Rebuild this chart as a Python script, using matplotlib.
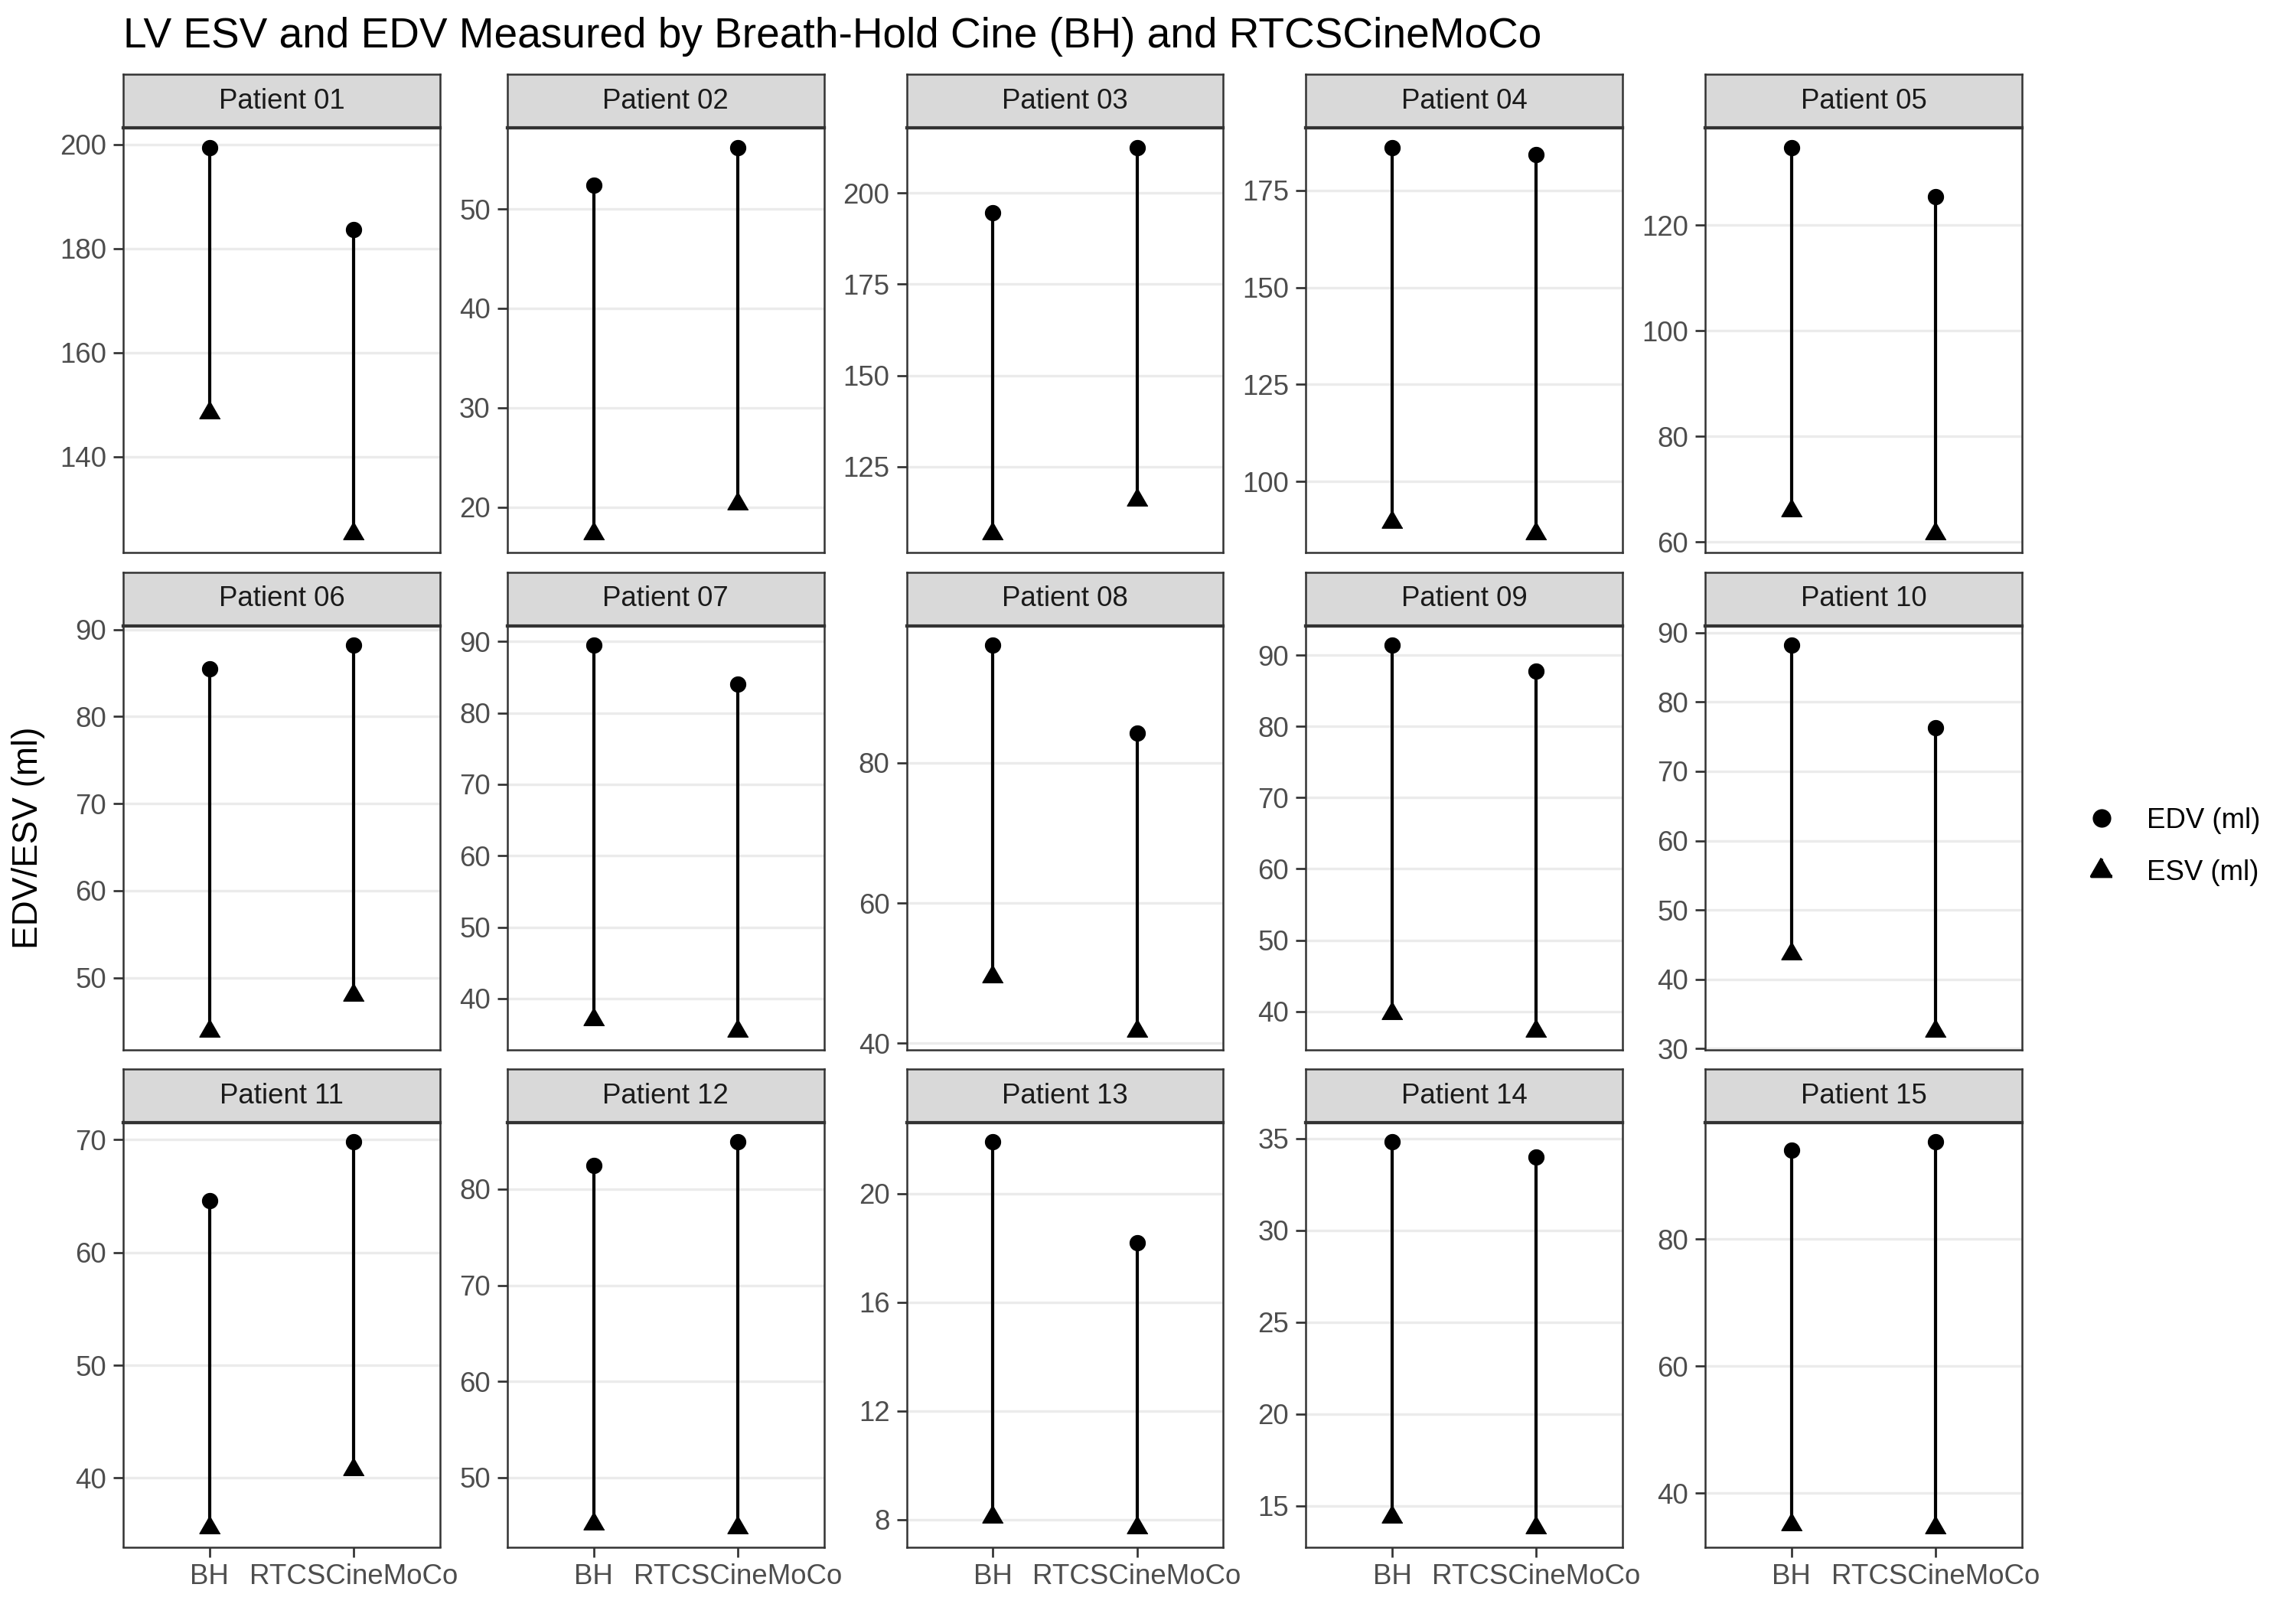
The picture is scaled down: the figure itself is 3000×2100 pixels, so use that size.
import matplotlib
matplotlib.use("Agg")
import matplotlib.pyplot as plt
from matplotlib.lines import Line2D

plt.rcParams['font.family'] = ['Liberation Sans', 'DejaVu Sans']

# values (ml)
patients = ["Patient 01", "Patient 02", "Patient 03", "Patient 04", "Patient 05",
            "Patient 06", "Patient 07", "Patient 08", "Patient 09", "Patient 10",
            "Patient 11", "Patient 12", "Patient 13", "Patient 14", "Patient 15"]
methods = ["BH", "RTCSCineMoCo"]
edv_bh = [199.4, 52.4, 194.6, 186.1, 134.7, 85.5, 89.5, 96.8, 91.4, 88.2, 64.6, 82.5, 21.9, 34.8, 94.0]
edv_rt = [183.6, 56.2, 212.5, 184.3, 125.3, 88.2, 84.0, 84.2, 87.8, 76.3, 69.8, 84.9, 18.2, 34.0, 95.3]
esv_bh = [148.4, 17.4, 106.8, 89.6, 66.0, 43.9, 37.1, 49.5, 39.8, 43.7, 35.6, 45.2, 8.1, 14.4, 35.1]
esv_rt = [125.3, 20.4, 116.0, 86.7, 61.7, 48.0, 35.5, 41.8, 37.3, 32.6, 40.8, 44.8, 7.7, 13.8, 34.6]
yticks = [[140, 160, 180, 200], [20, 30, 40, 50], [125, 150, 175, 200], [100, 125, 150, 175],
          [60, 80, 100, 120], [50, 60, 70, 80, 90], [40, 50, 60, 70, 80, 90], [40, 60, 80],
          [40, 50, 60, 70, 80, 90], [30, 40, 50, 60, 70, 80, 90], [40, 50, 60, 70],
          [50, 60, 70, 80], [8, 12, 16, 20], [15, 20, 25, 30, 35], [40, 60, 80]]

W, H = 3000, 2100
col_left = [161, 662.75, 1184.5, 1706.25, 2228]
panel_w = 414
row_top = [167.4, 817.8, 1467.2]
panel_h = 554.3
strip_h = 70

# triangle centred on its centroid, like R's pch 17
tri = [(0, 1), (-0.866, -0.5), (0.866, -0.5)]

fig = plt.figure(figsize=(10, 7), dpi=300)

for i, name in enumerate(patients):
    r, c = divmod(i, 5)
    ax = fig.add_axes([col_left[c] / W, 1 - (row_top[r] + panel_h) / H, panel_w / W, panel_h / H])
    x = [1, 2]
    edv = [edv_bh[i], edv_rt[i]]
    esv = [esv_bh[i], esv_rt[i]]
    ax.vlines(x, esv, edv, color='black', linewidth=1.0, zorder=3)
    ax.plot(x, edv, 'o', color='black', markersize=4.8, markeredgewidth=0.3, zorder=4)
    ax.plot(x, esv, marker=tri, linestyle='none', color='black', markersize=7.5,
            markeredgewidth=0.3, zorder=4)

    lo, hi = min(esv + edv), max(esv + edv)
    pad = 0.05 * (hi - lo)
    ax.set_ylim(lo - pad, hi + pad)
    ax.set_xlim(0.4, 2.6)
    ax.set_yticks(yticks[i])
    ax.yaxis.grid(True, color='#EBEBEB', linewidth=0.8)
    ax.set_axisbelow(True)
    for s in ax.spines.values():
        s.set_color('#333333')
        s.set_linewidth(0.6)
        s.set_zorder(5)
    ax.spines['top'].set_linewidth(1.0)
    ax.tick_params(axis='y', length=3.1, width=0.65, color='#333333',
                   labelcolor='#4D4D4D', labelsize=8.8, pad=2.2)
    ax.set_xticks(x)
    if r == 2:
        ax.set_xticklabels(methods)
        ax.tick_params(axis='x', length=3.1, width=0.65, color='#333333',
                       labelcolor='#4D4D4D', labelsize=8.8, pad=2.0)
    else:
        ax.tick_params(axis='x', bottom=False, labelbottom=False)

    st = fig.add_axes([col_left[c] / W, 1 - row_top[r] / H, panel_w / W, strip_h / H])
    st.set_facecolor('#D9D9D9')
    st.set_xticks([])
    st.set_yticks([])
    for s in st.spines.values():
        s.set_color('#333333')
        s.set_linewidth(0.6)
    st.spines['bottom'].set_linewidth(1.0)
    st.text(0.5, 0.5, name, ha='center', va='center', fontsize=8.8, color='#1A1A1A',
            transform=st.transAxes)

fig.text(161 / W, 1 - 62 / H, "LV ESV and EDV Measured by Breath-Hold Cine (BH) and RTCSCineMoCo",
         fontsize=13.2, ha='left', va='baseline', color='black')
fig.text(37 / W, 1 - 1095 / H, "EDV/ESV (ml)", rotation=90, ha='center', va='center',
         fontsize=11, color='black')

handles = [Line2D([], [], marker='o', linestyle='none', color='black', markersize=4.8),
           Line2D([], [], marker=tri, linestyle='none', color='black', markersize=7.5)]
fig.legend(handles, ["EDV (ml)", "ESV (ml)"], loc='center left',
           bbox_to_anchor=(2728 / W, 1 - 1106 / H), frameon=False, borderpad=0,
           borderaxespad=0, handlelength=1.0, handletextpad=1.1, labelspacing=0.9,
           fontsize=8.8)

fig.savefig("out.png", dpi=300)
